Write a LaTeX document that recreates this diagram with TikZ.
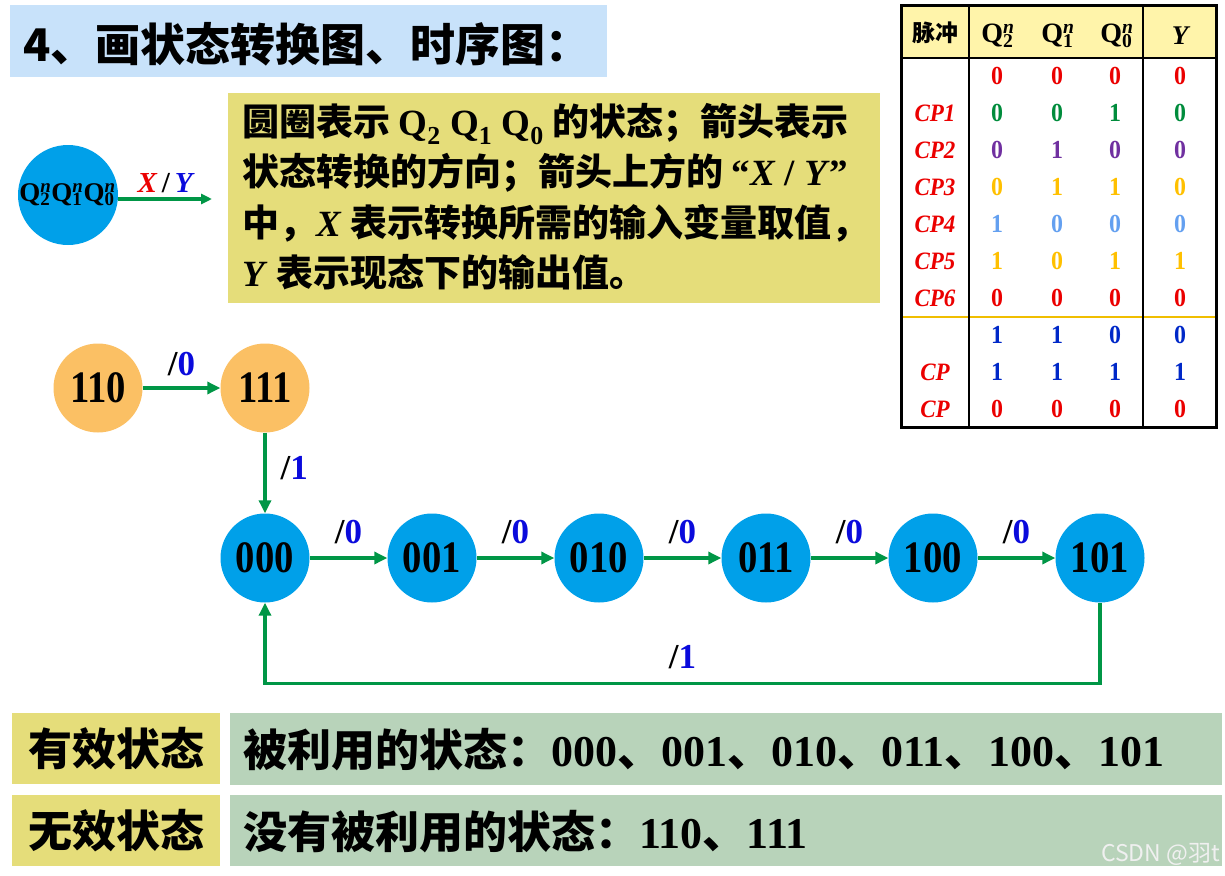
\documentclass[tikz,border=0pt]{standalone}
\usepackage{fontspec}
\usepackage{graphicx}
\setmainfont{Liberation Serif}
\newfontfamily\cjk{Noto Sans CJK SC}
\newfontfamily\cond{Liberation Serif}[FakeStretch=0.86]
\newfontfamily\tcond{Liberation Serif}[FakeStretch=0.92]
\newfontfamily\wm{Noto Sans CJK SC}
\usetikzlibrary{arrows.meta,calc}
\definecolor{titlebg}{RGB}{200,226,250}
\definecolor{khaki}{RGB}{229,221,122}
\definecolor{gbox}{RGB}{184,211,186}
\definecolor{nblue}{RGB}{0,160,233}
\definecolor{norange}{RGB}{251,192,100}
\definecolor{agreen}{RGB}{0,150,70}
\definecolor{lblue}{RGB}{10,10,220}
\definecolor{tred}{RGB}{235,0,0}
\definecolor{tgreen}{RGB}{0,140,60}
\definecolor{tpurple}{RGB}{112,48,160}
\definecolor{tyellow}{RGB}{255,192,0}
\definecolor{tlblue}{RGB}{100,160,240}
\definecolor{tblue}{RGB}{0,40,200}
\definecolor{theadbg}{RGB}{255,244,170}
\definecolor{tline}{RGB}{240,190,0}
\newcommand\Qsn[2]{Q\rlap{\textsubscript{#1}}\textsuperscript{\itshape #2}}
\newcommand\fs[1]{\fontsize{#1}{#1}\selectfont}
\tikzset{
  st/.style={circle, fill=nblue, minimum size=89pt, inner sep=0pt, font=\cond\bfseries\fs{45}},
  inv/.style={st, fill=norange},
  tr/.style={draw=agreen, line width=3.2pt, -{Triangle[length=13pt,width=12pt]}},
  lbl/.style={font=\bfseries\fs{35}, inner sep=0pt},
  cjktext/.style={font=\cjk\bfseries\fs{37}, inner sep=0pt, anchor=west},
  boxtext/.style={font=\cjk\bfseries\fs{44}, inner sep=0pt},
  tdig/.style={font=\tcond\bfseries\fs{26}, inner sep=0pt},
  tcp/.style={font=\tcond\bfseries\itshape\fs{25}, inner sep=0pt, text=tred},
}
\begin{document}
\begin{tikzpicture}[x=1pt,y=-1pt]
\useasboundingbox (0,0) rectangle (1225,875);
% title
\fill[titlebg] (10,5) rectangle (607,77);
\node[font=\cjk\bfseries\fs{45}, inner sep=0pt, anchor=west] (title) at (23,44) {4、画状态转换图、时序图：};
% legend
\node[circle, fill=nblue, minimum size=100pt, inner sep=0pt, font=\bfseries\fs{27}] (leg) at (68,195) {\kern-1pt\Qsn{2}{n}\Qsn{1}{n}\Qsn{0}{n}};
\coordinate (legend) at (212,199);
\draw[tr, -{Triangle[length=11pt,width=10pt]}] (leg.east |- legend) -- (legend) node[midway, anchor=base, yshift=7pt, font=\bfseries\itshape\fs{29}, inner sep=0pt] (xy) {\textcolor{tred}{X}\,{\upshape/}\,\textcolor{lblue}{Y}};
% explanation box
\fill[khaki] (228,93) rectangle (880,303);
\node[cjktext] (t1) at (242,124) {圆圈表示 {\rmfamily Q\textsubscript{2} Q\textsubscript{1} Q\textsubscript{0}} 的状态；箭头表示};
\node[cjktext] (t2) at (242,173) {状态转换的方向；箭头上方的 {\rmfamily “\textit{X} / \textit{Y}”}};
\node[cjktext] (t3) at (242,223) {中，{\rmfamily\textit{X}} 表示转换所需的输入变量取值，};
\node[cjktext] (t4) at (242,272) {{\rmfamily\textit{Y}} 表示现态下的输出值。};
% state diagram
\node[inv] (n110) at (98,388) {110};
\node[inv] (n111) at (265,388) {111};
\node[st] (n000) at (265,558) {000};
\node[st] (n001) at (432,558) {001};
\node[st] (n010) at (599,558) {010};
\node[st] (n011) at (766,558) {011};
\node[st] (n100) at (933,558) {100};
\node[st] (n101) at (1100,558) {101};
\draw[tr] (n110) -- (n111) node[midway, anchor=base, yshift=13pt, lbl] (l0) {/\textcolor{lblue}{0}};
\draw[tr] (n111) -- (n000) node[midway, anchor=base west, xshift=14pt, yshift=-6pt, lbl] (l1) {/\textcolor{lblue}{1}};
\foreach \a/\b in {000/001,001/010,010/011,011/100,100/101}
  \draw[tr] (n\a) -- (n\b) node[midway, anchor=base, yshift=15pt, lbl] (l\a) {/\textcolor{lblue}{0}};
\draw[tr] (n101.south) -- ++(0,81) -| node[pos=0.25, anchor=base, yshift=15pt, lbl] (lback) {/\textcolor{lblue}{1}} (n000.south);
% table
\fill[theadbg] (901,6) rectangle (1216,58);
\draw[tline, line width=2pt] (901,317) -- (1216,317);
\draw[line width=1.5pt] (969,6) -- (969,427) (1143,6) -- (1143,427);
\draw[line width=2pt] (901,58) -- (1216,58);
\draw[line width=3pt] (901,6) rectangle (1216,427);
\node[font=\cjk\bfseries\fs{23}, inner sep=0pt] (hp) at (935,33) {脉冲};
\node[font=\bfseries\fs{28}, inner sep=0pt] (hq2) at (998,36) {\Qsn{2}{n}};
\node[font=\bfseries\fs{28}, inner sep=0pt] (hq1) at (1058,36) {\Qsn{1}{n}};
\node[font=\bfseries\fs{28}, inner sep=0pt] (hq0) at (1117,36) {\Qsn{0}{n}};
\node[font=\bfseries\itshape\fs{27}, inner sep=0pt] (hy) at (1180,36) {Y};
\foreach \y/\c/\a/\b/\d/\e in {76/tred/0/0/0/0, 113/tgreen/0/0/1/0, 150/tpurple/0/1/0/0, 187/tyellow/0/1/1/0, 224/tlblue/1/0/0/0, 261/tyellow/1/0/1/1, 298/tred/0/0/0/0, 335/tblue/1/1/0/0, 372/tblue/1/1/1/1, 409/tred/0/0/0/0}{
  \node[tdig, text=\c] (a\y) at (997,\y) {\a};
  \node[tdig, text=\c] (b\y) at (1057,\y) {\b};
  \node[tdig, text=\c] (d\y) at (1115,\y) {\d};
  \node[tdig, text=\c] (e\y) at (1180,\y) {\e};
}
\foreach \y/\t in {113/CP1, 150/CP2, 187/CP3, 224/CP4, 261/CP5, 298/CP6, 372/CP, 409/CP}
  \node[tcp] (cp\y) at (935,\y) {\t};
% bottom boxes
\fill[khaki] (12,713) rectangle (220,784);
\fill[khaki] (12,795) rectangle (220,866);
\fill[gbox] (230,713) rectangle (1222,785);
\fill[gbox] (230,795) rectangle (1222,866);
\node[boxtext] (valid) at (116,749) {有效状态};
\node[boxtext] (invalid) at (116,831) {无效状态};
\node[boxtext, anchor=west] (vtext) at (243,750) {被利用的状态：{\rmfamily 000}、{\rmfamily 001}、{\rmfamily 010}、{\rmfamily 011}、{\rmfamily 100}、{\rmfamily 101}};
\node[boxtext, anchor=west] (itext) at (243,832) {没有被利用的状态：{\rmfamily 110}、{\rmfamily 111}};
% watermark
\node[font=\wm\fs{23}, text=white!88!gray, inner sep=0pt, anchor=west] (wmk) at (1101,854) {CSDN @羽t};
\end{tikzpicture}
\end{document}
